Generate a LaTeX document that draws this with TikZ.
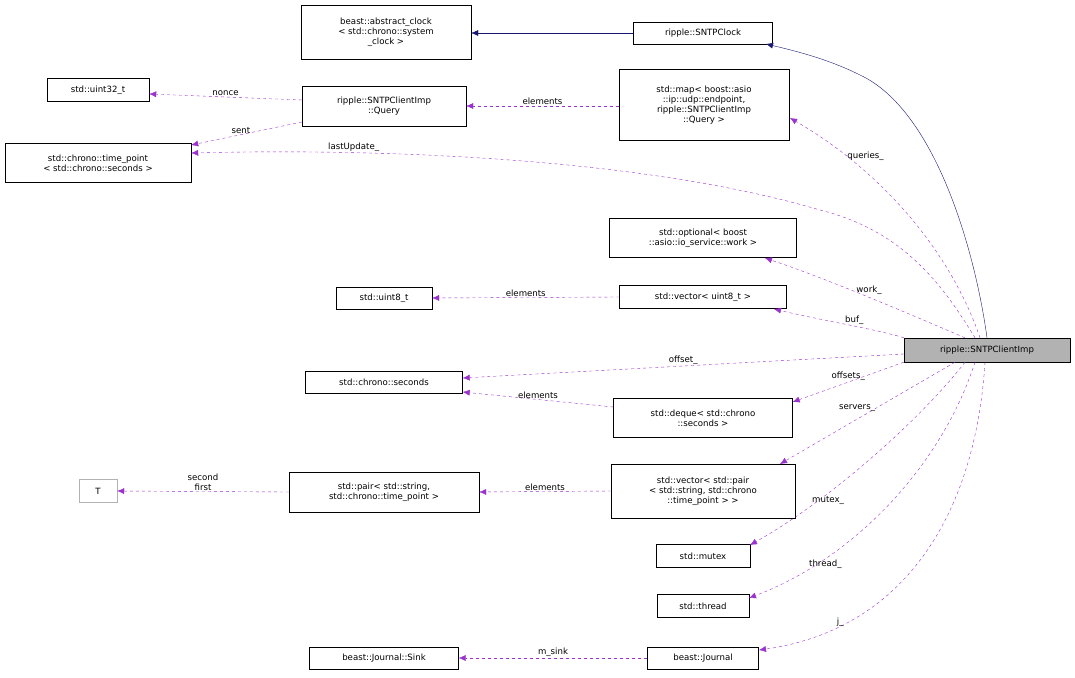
\documentclass[tikz,border=0pt]{standalone}
\usepackage{fontspec}
\setmainfont{DejaVu Sans}
\usetikzlibrary{arrows.meta}
\definecolor{dep}{HTML}{9A32CD}
\definecolor{inh}{HTML}{191970}
\begin{document}
\begin{tikzpicture}[x=1pt,y=-1pt,
  box/.style={draw=black,fill=white,inner sep=2pt,align=center,font=\fontsize{8.6}{10}\selectfont},
  useedge/.style={draw=dep,dashed,-{Latex[length=7pt,width=6pt]}},
  inhedge/.style={draw=inh,-{Latex[length=7pt,width=6pt]}},
  lab/.style={font=\fontsize{8.6}{10}\selectfont,inner sep=1pt,align=center}]
\useasboundingbox (0,0) rectangle (1075,677);
\node[box,minimum width=170,minimum height=54] (ac) at (386,32) {beast::abstract\_clock\\< std::chrono::system\\\_clock >};
\node[box,minimum width=139,minimum height=22] (sc) at (703,33) {ripple::SNTPClock};
\node[box,minimum width=102,minimum height=23] (u32) at (98,90) {std::uint32\_t};
\node[box,minimum width=164,minimum height=40] (q) at (384,106) {ripple::SNTPClientImp\\::Query};
\node[box,minimum width=170,minimum height=71] (map) at (704,105) {std::map< boost::asio\\::ip::udp::endpoint,\\ ripple::SNTPClientImp\\::Query >};
\node[box,minimum width=186,minimum height=39] (tp) at (98,163) {std::chrono::time\_point\\< std::chrono::seconds >};
\node[box,minimum width=187,minimum height=39] (opt) at (703,238) {std::optional< boost\\::asio::io\_service::work >};
\node[box,minimum width=96,minimum height=22] (u8) at (384,298) {std::uint8\_t};
\node[box,minimum width=167,minimum height=23] (vu8) at (703,297) {std::vector< uint8\_t >};
\node[box,fill=black!30,minimum width=166,minimum height=24] (ci) at (987,350) {ripple::SNTPClientImp};
\node[box,minimum width=157,minimum height=22] (sec) at (384,382) {std::chrono::seconds};
\node[box,minimum width=179,minimum height=39] (dq) at (703,418) {std::deque< std::chrono\\::seconds >};
\node[box,draw=black!30,minimum width=38,minimum height=23] (T) at (98,491) {T};
\node[box,minimum width=190,minimum height=40] (pr) at (384,492) {std::pair< std::string,\\ std::chrono::time\_point >};
\node[box,minimum width=184,minimum height=54] (vp) at (703,491) {std::vector< std::pair\\< std::string, std::chrono\\::time\_point > >};
\node[box,minimum width=94,minimum height=23] (mx) at (703,556) {std::mutex};
\node[box,minimum width=92,minimum height=23] (th) at (703,606) {std::thread};
\node[box,minimum width=111,minimum height=22] (jr) at (703,658) {beast::Journal};
\node[box,minimum width=149,minimum height=22] (sk) at (384,658) {beast::Journal::Sink};

\draw[inhedge] (sc.west) -- (ac.east |- sc.west);
\draw[inhedge] (ci.north) .. controls (975,250) and (935,110) .. (860,75) .. controls (830,60) and (800,52) .. (766,44);
\draw[useedge] (q.west |- 0,100) -- node[lab,above]{nonce} (u32.east |- 0,94);
\draw[useedge] (q.west |- 0,122) -- node[lab,above,pos=0.55]{sent} (tp.east |- 0,145);
\draw[useedge] (map.west |- 0,106) -- node[lab,above]{elements} (q.east |- 0,106);
\draw[useedge] (ci.north -| 975,338) .. controls (940,280) and (900,230) .. (820,210) .. controls (650,160) and (400,148) .. (tp.east |- 0,153) node[lab,above,pos=0.75]{lastUpdate\_};
\draw[useedge] (ci.north -| 980,338) .. controls (950,250) and (880,170) .. (790,118) node[lab,pos=0.78,right]{queries\_};
\draw[useedge] (ci.north -| 965,338) .. controls (900,310) and (830,280) .. (765,258) node[lab,pos=0.5,above,xshift=4pt]{work\_};
\draw[useedge] (ci.north west) .. controls (880,330) and (820,320) .. (774,309) node[lab,pos=0.45,above]{buf\_};
\draw[useedge] (vu8.west) -- node[lab,above]{elements} (u8.east);
\draw[useedge] (ci.west |- 0,354) -- node[lab,above]{offset\_} (sec.east |- 0,378);
\draw[useedge] (ci.south west) -- node[lab,above,pos=0.5]{offsets\_} (dq.east |- 0,402);
\draw[useedge] (dq.west |- 0,407) -- node[lab,above]{elements} (sec.east |- 0,392);
\draw[useedge] (ci.south -| 955,362) -- node[lab,left,pos=0.45]{servers\_} (780,464);
\draw[useedge] (vp.west) -- node[lab,above]{elements} (pr.east);
\draw[useedge] (pr.west) -- node[lab,above]{second\\first} (T.east);
\draw[useedge] (ci.south -| 965,362) .. controls (920,420) and (830,500) .. (750,545) node[lab,pos=0.75,above right]{mutex\_};
\draw[useedge] (ci.south -| 975,362) .. controls (940,470) and (850,560) .. (749,598) node[lab,pos=0.8,above right]{thread\_};
\draw[useedge] (ci.south -| 985,362) .. controls (975,520) and (900,630) .. (759,650) node[lab,pos=0.8,above right]{j\_};
\draw[useedge] (jr.west) -- node[lab,above]{m\_sink} (sk.east);
\end{tikzpicture}
\end{document}
